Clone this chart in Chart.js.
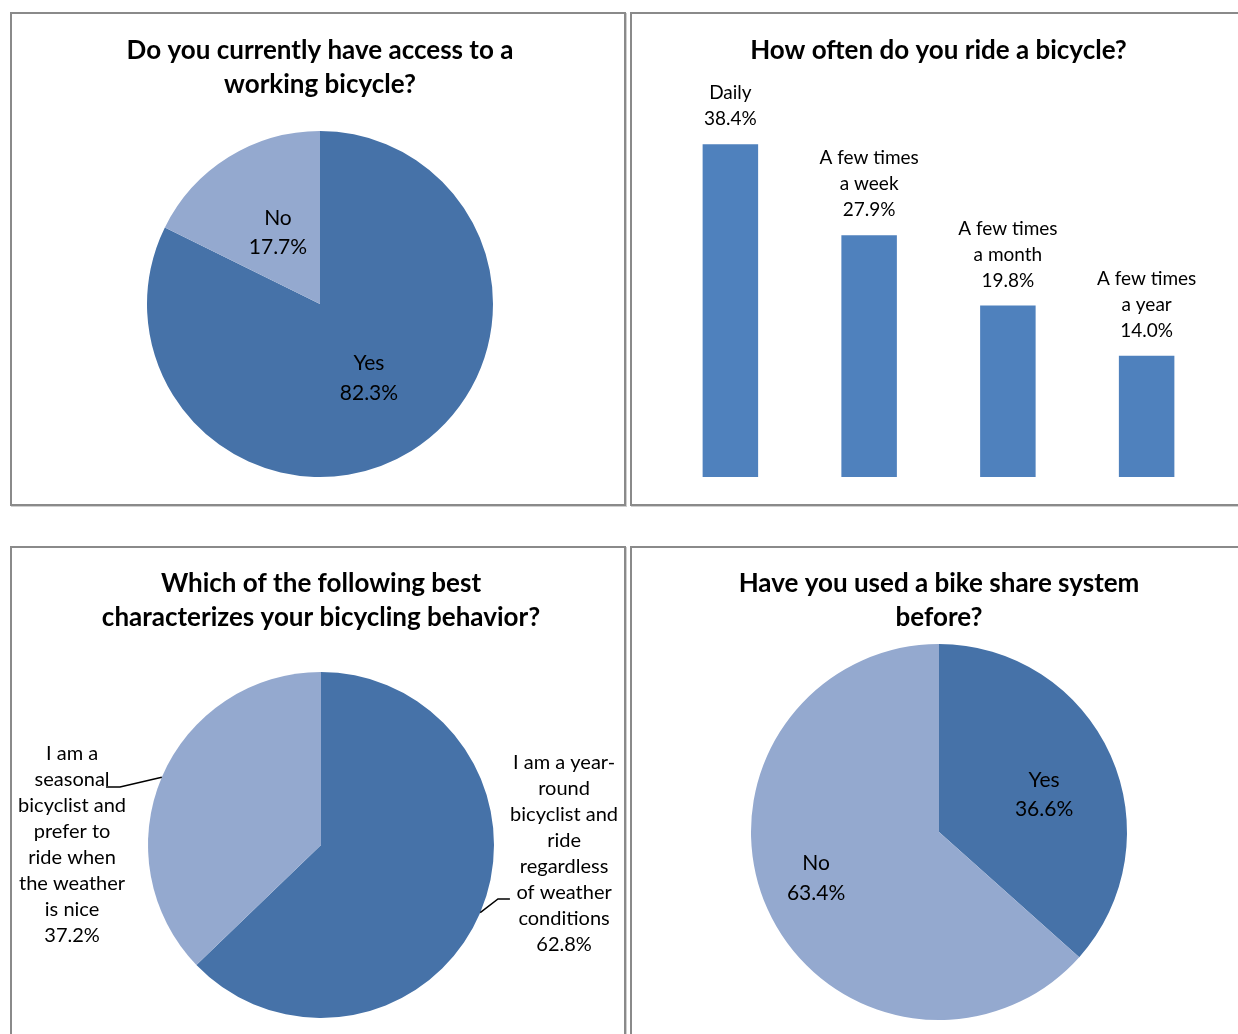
<!DOCTYPE html>
<html>
<head>
<meta charset="utf-8">
<script src="https://cdn.jsdelivr.net/npm/chart.js@4.4.1/dist/chart.umd.min.js"></script>
<style>
  body { margin: 0; background: #fff; width: 1238px; height: 1034px; overflow: hidden; position: relative; }
  .panel { position: absolute; border: 2px solid #8a8a8a; box-shadow: 1px 1px 0 #cfcfcf; background: #fff; overflow: hidden; }
  .panel canvas { display: block; }
</style>
</head>
<body>
<div class="panel" style="left:10px;top:12px;width:612px;height:490px"><canvas id="accessChart" width="612" height="490"></canvas></div>
<div class="panel" style="left:630px;top:12px;width:620px;height:490px"><canvas id="rideChart" width="620" height="490"></canvas></div>
<div class="panel" style="left:10px;top:546px;width:612px;height:490px"><canvas id="behaviorChart" width="612" height="490"></canvas></div>
<div class="panel" style="left:630px;top:546px;width:620px;height:490px"><canvas id="shareChart" width="620" height="490"></canvas></div>
<script>
// survey answers, in percent
const accessLabels = ['Yes', 'No'];
const accessValues = [82.3, 17.7];

const rideLabels = [['Daily'], ['A few times', 'a week'], ['A few times', 'a month'], ['A few times', 'a year']];
const rideValues = [38.4, 27.9, 19.8, 14.0];

const behaviorLabels = [
    ['I am a year-', 'round', 'bicyclist and', 'ride', 'regardless', 'of weather', 'conditions'],
    ['I am a', 'seasonal', 'bicyclist and', 'prefer to', 'ride when', 'the weather', 'is nice']
];
const behaviorValues = [62.8, 37.2];

const shareLabels = ['Yes', 'No'];
const shareValues = [36.6, 63.4];

const dark = '#4672a8';
const light = '#94a9cf';
const barBlue = '#4f81bd';
const FONT = 'Lato, "Open Sans", sans-serif';

Chart.defaults.font.family = FONT;
Chart.defaults.color = '#000';

function pct(v) {
    return v.toFixed(1) + '%';
}

function toLines(label) {
    return Array.isArray(label) ? label : [label];
}

// draws slice labels (and leader lines) for the pie charts
const pieLabels = {
    id: 'pieLabels',
    afterDatasetsDraw(chart, args, opts) {
        if (!opts.place) return;
        const ctx = chart.ctx;
        const meta = chart.getDatasetMeta(0);
        const ds = chart.data.datasets[0];
        ctx.save();
        ctx.font = opts.size + 'px ' + FONT;
        ctx.fillStyle = '#000';
        ctx.textAlign = 'center';
        ctx.textBaseline = 'middle';
        meta.data.forEach(function(arc, i) {
            const r = arc.outerRadius;
            const lines = toLines(chart.data.labels[i]).concat([pct(ds.data[i])]);
            const cx = arc.x + opts.place[i][0] * r;
            const cy = arc.y + opts.place[i][1] * r;
            const top = cy - (lines.length - 1) * opts.lineHeight / 2;
            lines.forEach(function(t, k) {
                ctx.fillText(t, cx, top + k * opts.lineHeight);
            });
            if (opts.leaders && opts.leaders[i]) {
                const mid = (arc.startAngle + arc.endAngle) / 2;
                const lead = opts.leaders[i];
                ctx.beginPath();
                ctx.moveTo(arc.x + Math.cos(mid) * r, arc.y + Math.sin(mid) * r);
                ctx.lineTo(arc.x + lead[0][0] * r, arc.y + lead[0][1] * r);
                ctx.lineTo(arc.x + lead[1][0] * r, arc.y + lead[1][1] * r);
                ctx.strokeStyle = '#000';
                ctx.lineWidth = 1.5;
                ctx.stroke();
            }
        });
        ctx.restore();
    }
};

// category + value written above each bar
const barLabels = {
    id: 'barLabels',
    afterDatasetsDraw(chart, args, opts) {
        if (!opts.lineHeight) return;
        const ctx = chart.ctx;
        const meta = chart.getDatasetMeta(0);
        const ds = chart.data.datasets[0];
        ctx.save();
        ctx.font = opts.size + 'px ' + FONT;
        ctx.fillStyle = '#000';
        ctx.textAlign = 'center';
        ctx.textBaseline = 'middle';
        meta.data.forEach(function(bar, i) {
            const lines = toLines(chart.data.labels[i]).concat([pct(ds.data[i])]);
            const last = bar.y - opts.gap;
            lines.forEach(function(t, k) {
                ctx.fillText(t, bar.x, last - (lines.length - 1 - k) * opts.lineHeight);
            });
        });
        ctx.restore();
    }
};

function titleOpts(text, top, bottom) {
    return {
        display: true,
        text: text,
        color: '#000',
        font: { family: FONT, size: 26, weight: 'bold', lineHeight: '34px' },
        padding: { top: top, bottom: bottom }
    };
}

function pieChart(id, labels, values, radius, title, padding, labelOpts) {
    return new Chart(document.getElementById(id), {
        type: 'pie',
        data: {
            labels: labels,
            datasets: [{
                data: values,
                backgroundColor: [dark, light],
                borderWidth: 0,
                radius: radius
            }]
        },
        plugins: [pieLabels],
        options: {
            responsive: false,
            animation: false,
            layout: { padding: padding },
            plugins: {
                legend: { display: false },
                tooltip: { enabled: false },
                title: title,
                pieLabels: labelOpts
            }
        }
    });
}

pieChart('accessChart', accessLabels, accessValues, 173,
    titleOpts(['Do you currently have access to a', 'working bicycle?'], 20, 2),
    { left: 4, right: 0, top: 0, bottom: 0 },
    { size: 21, lineHeight: 29.5, place: [[0.283, 0.428], [-0.243, -0.413]] });

pieChart('behaviorChart', behaviorLabels, behaviorValues, 173,
    titleOpts(['Which of the following best', 'characterizes your bicycling behavior?'], 19, 17),
    { left: 6, right: 0, top: 0, bottom: 0 },
    {
        size: 20, lineHeight: 26,
        place: [[1.405, 0.052], [-1.439, 0]],
        leaders: [[[1.023, 0.312], [1.092, 0.312]], [[-1.162, -0.335], [-1.243, -0.335]]]
    });

pieChart('shareChart', shareLabels, shareValues, 188,
    titleOpts(['Have you used a bike share system', 'before?'], 19, 0),
    { left: 0, right: 6, top: 0, bottom: 9 },
    { size: 21, lineHeight: 29.5, place: [[0.559, -0.197], [-0.654, 0.245]] });

new Chart(document.getElementById('rideChart'), {
    type: 'bar',
    data: {
        labels: rideLabels,
        datasets: [{
            data: rideValues,
            backgroundColor: barBlue,
            borderWidth: 0,
            categoryPercentage: 1,
            barPercentage: 0.4
        }]
    },
    plugins: [barLabels],
    options: {
        responsive: false,
        animation: false,
        layout: { padding: { left: 29, right: 36, top: 0, bottom: 27 } },
        scales: {
            x: { display: false },
            y: { display: false, min: 0, max: 45 }
        },
        plugins: {
            legend: { display: false },
            tooltip: { enabled: false },
            title: titleOpts('How often do you ride a bicycle?', 20, 19),
            barLabels: { size: 19, lineHeight: 26, gap: 25 }
        }
    }
});
</script>
</body>
</html>
